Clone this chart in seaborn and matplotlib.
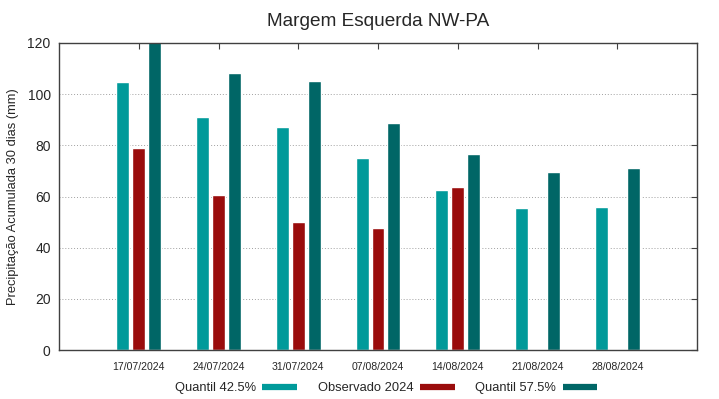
import pandas as pd
import numpy as np
import matplotlib
matplotlib.use("Agg")
import matplotlib.pyplot as plt
import seaborn as sns
from matplotlib.lines import Line2D

datas = ["17/07/2024", "24/07/2024", "31/07/2024", "07/08/2024",
         "14/08/2024", "21/08/2024", "28/08/2024"]
q425 = [104.6, 91.2, 87.2, 75.1, 62.5, 55.4, 55.8]
observado = [79.1, 60.7, 50.0, 47.7, 63.6, np.nan, np.nan]
q575 = [121.0, 108.2, 105.3, 88.9, 76.6, 69.5, 71.3]
series = ["Quantil 42.5%", "Observado 2024", "Quantil 57.5%"]
cores = ["#009a9a", "#9a0c0c", "#006666"]

df = pd.DataFrame({
    "data": datas * 3,
    "valor": q425 + observado + q575,
    "serie": [series[0]] * 7 + [series[1]] * 7 + [series[2]] * 7,
})

sns.set_style("white")
plt.rcParams["font.family"] = ["Liberation Sans", "DejaVu Sans"]

fig, ax = plt.subplots(figsize=(7.19, 3.99), dpi=100)
fig.subplots_adjust(left=59 / 719, right=697 / 719, top=1 - 43 / 399, bottom=1 - 350 / 399)

sns.barplot(data=df, x="data", y="valor", hue="serie", order=datas, hue_order=series,
            palette=cores, width=0.6, gap=0.19, saturation=1, legend=False, ax=ax)

ax.set_xlim(-1, 7)
ax.set_ylim(0, 120)
ax.set_yticks(range(0, 121, 20))
ax.set_axisbelow(True)
for y in range(20, 120, 20):
    ax.axhline(y, color="#a0a0a0", linestyle=(0, (1, 2)), linewidth=0.7, zorder=0)

for s in ax.spines.values():
    s.set_color("#404040")
    s.set_linewidth(1)
ax.tick_params(axis="both", direction="in", top=True, right=True, length=4, color="#404040")
ax.tick_params(axis="x", labelsize=7.6, pad=9)
ax.tick_params(axis="y", labelsize=10, pad=6)

ax.set_xlabel("")
ax.set_ylabel("Precipitação Acumulada 30 dias (mm)", fontsize=9.3, labelpad=6)
ax.set_title("Margem Esquerda NW-PA", fontsize=13.7, pad=12)

handles = [Line2D([0], [0], color=c, linewidth=4.5, solid_capstyle="butt") for c in cores]
fig.legend(handles, series, loc="center", bbox_to_anchor=(386 / 719, 1 - 388 / 399),
           ncol=3, frameon=False, markerfirst=False, handlelength=2.7,
           columnspacing=1.6, handletextpad=0.5, fontsize=9.3)

plt.savefig("out.png", dpi=100)
plt.close()
